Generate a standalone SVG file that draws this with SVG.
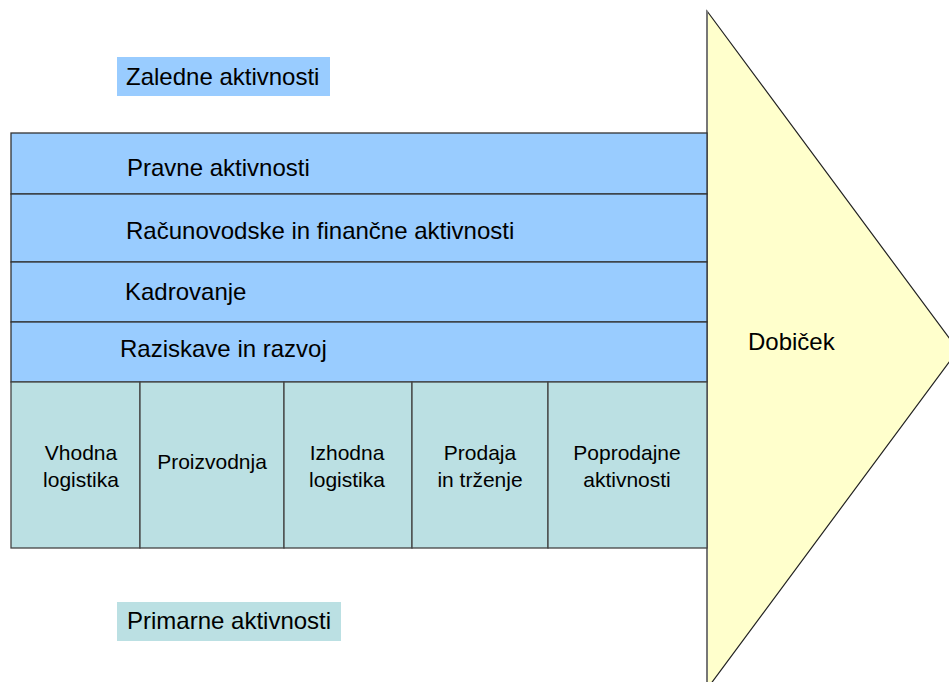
<svg xmlns="http://www.w3.org/2000/svg" width="949" height="682" viewBox="0 0 949 682">
  <style>
    .t { font-family: "Liberation Sans", Arial, sans-serif; fill: #000; }
    .big { font-size: 24px; }
    .small { font-size: 21px; }
    .mid { text-anchor: middle; }
    .sup { fill: #99CCFF; stroke: #333; stroke-width: 1.3; }
    .prim { fill: #BBE0E3; stroke: #444; stroke-width: 1.3; }
  </style>
  <rect width="949" height="682" fill="#fff"/>

  <!-- profit arrow head -->
  <g id="dobicek">
    <polygon points="707,11 958,350 707,689" fill="#FFFFCC" stroke="#222" stroke-width="1.2"/>
    <line x1="707" y1="11" x2="707" y2="682" stroke="#777" stroke-width="2"/>
    <text class="t big" x="748" y="350">Dobiček</text>
  </g>

  <!-- support activities -->
  <g id="zaledne-label">
    <rect x="117" y="57" width="213" height="39" fill="#99CCFF"/>
    <text class="t big" x="126" y="85">Zaledne aktivnosti</text>
  </g>
  <g id="pravne">
    <rect class="sup" x="11" y="133" width="696" height="61"/>
    <text class="t big" x="127" y="176">Pravne aktivnosti</text>
  </g>
  <g id="racunovodske">
    <rect class="sup" x="11" y="194" width="696" height="68"/>
    <text class="t big" x="126" y="239">Računovodske in finančne aktivnosti</text>
  </g>
  <g id="kadrovanje">
    <rect class="sup" x="11" y="262" width="696" height="60"/>
    <text class="t big" x="125" y="300">Kadrovanje</text>
  </g>
  <g id="raziskave">
    <rect class="sup" x="11" y="322" width="696" height="60"/>
    <text class="t big" x="120" y="357">Raziskave in razvoj</text>
  </g>

  <!-- primary activities -->
  <g id="vhodna">
    <rect class="prim" x="11" y="382" width="129" height="166"/>
    <text class="t small mid" x="81" y="460">Vhodna</text>
    <text class="t small mid" x="81" y="487">logistika</text>
  </g>
  <g id="proizvodnja">
    <rect class="prim" x="140" y="382" width="144" height="166"/>
    <text class="t small mid" x="212" y="469">Proizvodnja</text>
  </g>
  <g id="izhodna">
    <rect class="prim" x="284" y="382" width="128" height="166"/>
    <text class="t small mid" x="347" y="460">Izhodna</text>
    <text class="t small mid" x="347" y="487">logistika</text>
  </g>
  <g id="prodaja">
    <rect class="prim" x="412" y="382" width="136" height="166"/>
    <text class="t small mid" x="480" y="460">Prodaja</text>
    <text class="t small mid" x="480" y="487">in trženje</text>
  </g>
  <g id="poprodajne">
    <rect class="prim" x="548" y="382" width="159" height="166"/>
    <text class="t small mid" x="627" y="460">Poprodajne</text>
    <text class="t small mid" x="627" y="487">aktivnosti</text>
  </g>
  <g id="primarne-label">
    <rect x="117" y="602" width="224" height="39" fill="#BBE0E3"/>
    <text class="t big" x="127" y="629">Primarne aktivnosti</text>
  </g>

  <g id="connectors"/>
</svg>
